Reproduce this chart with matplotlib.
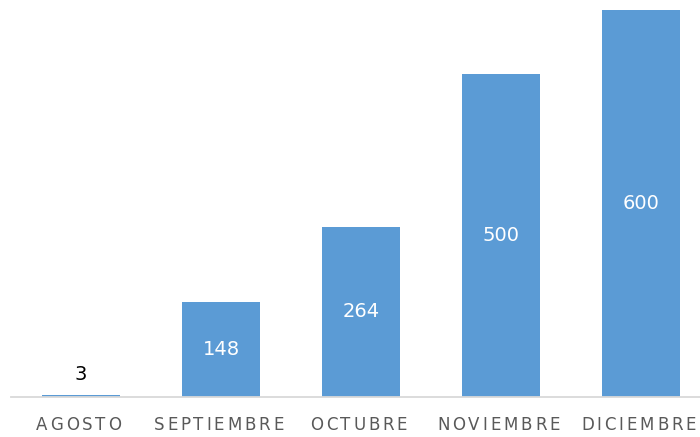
import matplotlib
matplotlib.use("Agg")
import matplotlib.pyplot as plt
import matplotlib.transforms as mtransforms
from matplotlib.textpath import TextToPath
from matplotlib.font_manager import FontProperties, findfont

# datos
meses = ["AGOSTO", "SEPTIEMBRE", "OCTUBRE", "NOVIEMBRE", "DICIEMBRE"]
valores = [3, 148, 264, 500, 600]

azul = "#5b9bd5"
gris_texto = "#595959"
gris_eje = "#d9d9d9"

fig = plt.figure(figsize=(7, 4.37), dpi=100)
ax = fig.add_axes([11 / 700, 40 / 437, 1 - 11 / 700, 397 / 437])

x = range(len(meses))
barras = ax.bar(x, valores, width=0.557, color=azul, zorder=2)

ax.set_xlim(-0.5, 4.421)
ax.set_ylim(0, 615.5)
for s in ["top", "right", "left"]:
    ax.spines[s].set_visible(False)
ax.spines["bottom"].set_color(gris_eje)
ax.spines["bottom"].set_linewidth(1.3)
ax.set_yticks([])
ax.set_xticks([])

# etiquetas de datos
for xi, v in zip(x, valores):
    if v < 40:
        ax.annotate(str(v), (xi, v), xytext=(0, 8), textcoords="offset points",
                    ha="center", va="bottom", fontsize=14, color="black")
    else:
        ax.text(xi, v / 2, str(v), ha="center", va="center", fontsize=14, color="white")

# fuente estrecha si existe, si no DejaVu
try:
    findfont(FontProperties(family="Liberation Sans Narrow"), fallback_to_default=False)
    fp = FontProperties(family="Liberation Sans Narrow", size=13.4)
    tracking = 4.6
except ValueError:
    fp = FontProperties(family="DejaVu Sans", size=12)
    tracking = 2.8

t2p = TextToPath()


def letra_espaciada(xc, texto, dx=-2.5):
    anchos = [t2p.get_text_width_height_descent(c, fp, ismath=False)[0] * fig.dpi / 72 for c in texto]
    total = sum(anchos) + tracking * (len(texto) - 1)
    pos = -total / 2 + dx
    for c, w in zip(texto, anchos):
        off = mtransforms.ScaledTranslation(pos / fig.dpi, -19 / fig.dpi, fig.dpi_scale_trans)
        ax.text(xc, 0, c, fontproperties=fp, color=gris_texto, ha="left", va="top",
                transform=ax.get_xaxis_transform() + off, clip_on=False)
        pos += w + tracking


for xi, m in zip(x, meses):
    letra_espaciada(xi, m)

fig.savefig("out.png", dpi=100)
